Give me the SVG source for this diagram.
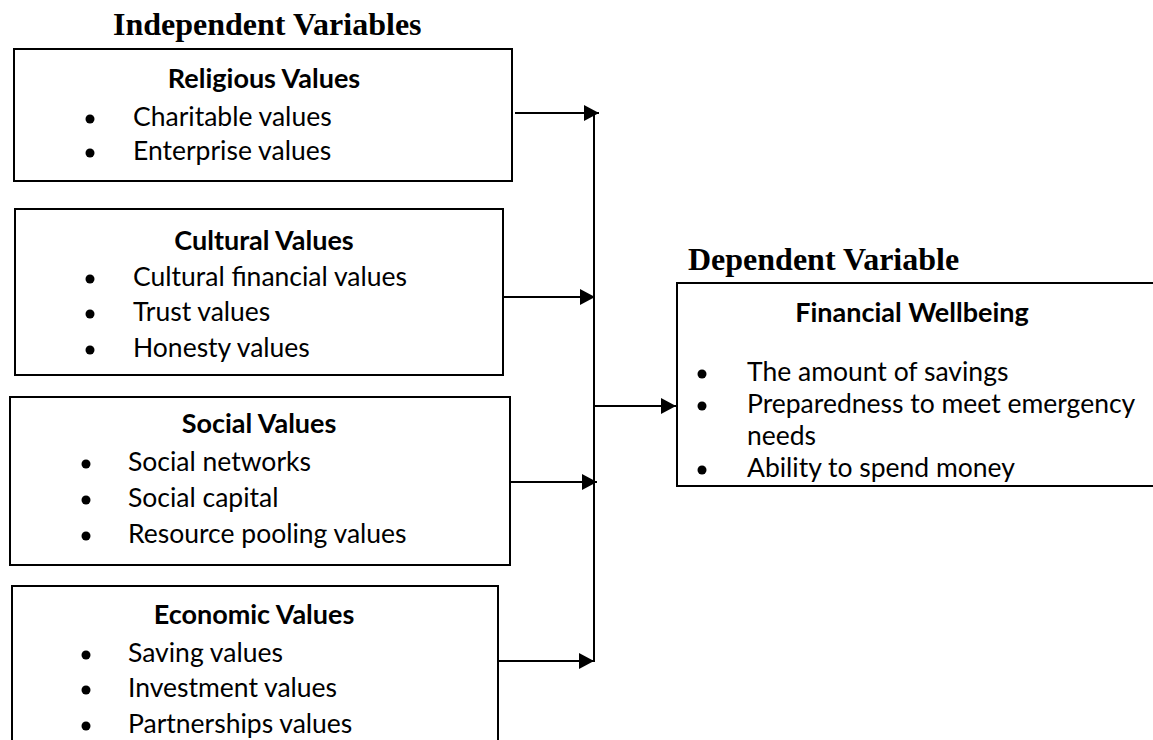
<svg xmlns="http://www.w3.org/2000/svg" width="1153" height="740" viewBox="0 0 1153 740">
  <style>
    .box { fill: #ffffff; stroke: #000000; stroke-width: 2; }
    .head { font-family: "Liberation Serif", "Times New Roman", serif; font-weight: bold; font-size: 32px; fill: #000; }
    .title { font-family: Lato, "Open Sans", sans-serif; font-weight: bold; font-size: 27px; fill: #000; text-anchor: middle; }
    .item { font-family: Lato, "Open Sans", sans-serif; font-size: 26.5px; fill: #000; }
    .dot { fill: #000; }
    .wire { fill: none; stroke: #000; stroke-width: 2; }
  </style>
  <defs>
    <marker id="arrow" markerUnits="userSpaceOnUse" markerWidth="15" markerHeight="16" refX="15" refY="8" orient="auto">
      <polygon points="0,0 15,8 0,16" fill="#000"/>
    </marker>
  </defs>
  <rect width="1153" height="740" fill="#ffffff"/>

  <text class="head" x="113" y="35">Independent Variables</text>
  <text class="head" x="688" y="270">Dependent Variable</text>

  <g id="religious">
    <rect class="box" x="14" y="49" width="498" height="132"/>
    <text class="title" x="264" y="88">Religious Values</text>
    <circle class="dot" cx="90" cy="119" r="4.5"/>
    <text class="item" x="133" y="126">Charitable values</text>
    <circle class="dot" cx="90" cy="153" r="4.5"/>
    <text class="item" x="133" y="160">Enterprise values</text>
  </g>

  <g id="cultural">
    <rect class="box" x="15" y="209" width="488" height="166"/>
    <text class="title" x="264" y="250">Cultural Values</text>
    <circle class="dot" cx="90" cy="279" r="4.5"/>
    <text class="item" x="133" y="286">Cultural financial values</text>
    <circle class="dot" cx="90" cy="314" r="4.5"/>
    <text class="item" x="133" y="321">Trust values</text>
    <circle class="dot" cx="90" cy="350" r="4.5"/>
    <text class="item" x="133" y="357">Honesty values</text>
  </g>

  <g id="social">
    <rect class="box" x="10" y="397" width="500" height="168"/>
    <text class="title" x="259" y="433">Social Values</text>
    <circle class="dot" cx="86" cy="464" r="4.5"/>
    <text class="item" x="128" y="471">Social networks</text>
    <circle class="dot" cx="86" cy="500" r="4.5"/>
    <text class="item" x="128" y="507">Social capital</text>
    <circle class="dot" cx="86" cy="536" r="4.5"/>
    <text class="item" x="128" y="543">Resource pooling values</text>
  </g>

  <g id="economic">
    <rect class="box" x="12" y="586" width="486" height="170"/>
    <text class="title" x="254" y="624">Economic Values</text>
    <circle class="dot" cx="86" cy="655" r="4.5"/>
    <text class="item" x="128" y="662">Saving values</text>
    <circle class="dot" cx="86" cy="690" r="4.5"/>
    <text class="item" x="128" y="697">Investment values</text>
    <circle class="dot" cx="86" cy="726" r="4.5"/>
    <text class="item" x="128" y="733">Partnerships values</text>
  </g>

  <g id="wellbeing">
    <rect class="box" x="677" y="283" width="500" height="203"/>
    <text class="title" x="912" y="322">Financial Wellbeing</text>
    <circle class="dot" cx="702" cy="374" r="4.5"/>
    <text class="item" x="747" y="381">The amount of savings</text>
    <circle class="dot" cx="702" cy="406" r="4.5"/>
    <text class="item" x="747" y="413">Preparedness to meet emergency</text>
    <text class="item" x="747" y="445">needs</text>
    <circle class="dot" cx="702" cy="470" r="4.5"/>
    <text class="item" x="747" y="477">Ability to spend money</text>
  </g>

  <g id="connectors">
    <line class="wire" x1="594" y1="113" x2="594" y2="662"/>
    <line class="wire" x1="515" y1="113" x2="599" y2="113" marker-end="url(#arrow)"/>
    <line class="wire" x1="503" y1="297" x2="595" y2="297" marker-end="url(#arrow)"/>
    <line class="wire" x1="510" y1="482" x2="597" y2="482" marker-end="url(#arrow)"/>
    <line class="wire" x1="498" y1="661" x2="594" y2="661" marker-end="url(#arrow)"/>
    <line class="wire" x1="594" y1="406" x2="676" y2="406" marker-end="url(#arrow)"/>
  </g>
</svg>
